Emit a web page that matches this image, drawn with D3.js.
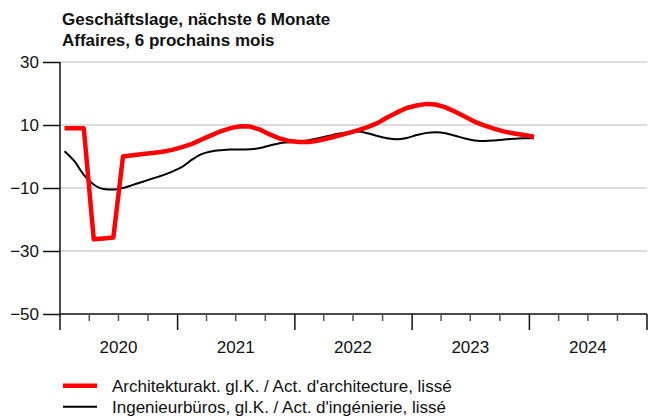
<!DOCTYPE html>
<html>
<head>
<meta charset="utf-8">
<script src="https://cdn.jsdelivr.net/npm/d3@7"></script>
<style>
  html, body { margin: 0; padding: 0; background: #fff; }
  svg { display: block; font-family: "Liberation Sans", Arial, sans-serif; }
</style>
</head>
<body>
<svg id="chart" width="656" height="416"></svg>
<script>
// ---- Data (monthly, Jan 2020 – Jan 2024) ----
const titleLines = ["Geschäftslage, nächste 6 Monate", "Affaires, 6 prochains mois"];
const startYear = 2020;
const startMonth = 0;
const architecture = [
  9, 9, 9, -26.3, -26.0, -25.7, 0, 0.4, 0.8, 1.1, 1.5, 2.1,
  3.0, 4.0, 5.3, 6.7, 8.0, 9.0, 9.6, 9.5, 8.5, 7.0, 5.7, 4.9,
  4.6, 4.6, 5.1, 5.8, 6.6, 7.4, 8.3, 9.3, 10.6, 12.4, 14.0, 15.4,
  16.2, 16.7, 16.5, 15.6, 14.2, 12.6, 11.0, 9.8, 8.8, 7.9, 7.3, 6.8,
  6.3
];
const engineering = [
  1.7, -1.5, -5.8, -8.9, -10.3, -10.5, -10.0, -9.0, -8.0, -7.0, -6.0, -4.8,
  -3.3, -1.0, 0.7, 1.6, 2.0, 2.2, 2.2, 2.3, 2.7, 3.5, 4.2, 4.5,
  4.8, 5.2, 5.8, 6.5, 7.2, 7.7, 7.9, 7.4, 6.5, 5.8, 5.5, 5.9,
  6.8, 7.5, 7.7, 7.4, 6.6, 5.7, 5.1, 4.9, 5.1, 5.4, 5.6, 5.8,
  5.8
];
const yTicks = [30, 10, -10, -30, -50];
const yearLabels = [2020, 2021, 2022, 2023, 2024];
const seriesNames = [
  "Architekturakt. gl.K. / Act. d'architecture, lissé",
  "Ingenieurbüros, gl.K. / Act. d'ingénierie, lissé"
];
const seriesColors = ["#ff0000", "#000000"];

// ---- Layout ----
const svg = d3.select("#chart");
const mLeft = 60, mRight = 647, mTop = 62, mBottom = 314;

const x = d3.scaleTime()
  .domain([new Date(2020, 0, 1), new Date(2025, 0, 1)])
  .range([mLeft, mRight]);
const y = d3.scaleLinear().domain([-50, 30]).range([mBottom, mTop]);

const dateOf = i => new Date(startYear, startMonth + i, 15);

// Title
svg.selectAll("text.title").data(titleLines).enter().append("text")
  .attr("class", "title")
  .attr("x", 62).attr("y", (d, i) => 24.5 + i * 21)
  .attr("font-size", 17).attr("font-weight", "bold").attr("fill", "#111")
  .text(d => d);

// Grid lines
svg.append("g").selectAll("line").data(yTicks.filter(d => d !== -50)).enter().append("line")
  .attr("x1", mLeft).attr("x2", mRight)
  .attr("y1", d => y(d)).attr("y2", d => y(d))
  .attr("stroke", "#d0d0d0").attr("stroke-width", 1.5);

// Y axis
const yAxis = d3.axisLeft(y).tickValues(yTicks).tickSize(17).tickPadding(4)
  .tickFormat(d => d < 0 ? "\u2212" + Math.abs(d) : d);
const gy = svg.append("g").attr("transform", `translate(${mLeft},0)`).call(yAxis);
gy.select(".domain").remove();
gy.selectAll(".tick line").attr("stroke", "#111").attr("stroke-width", 1.5);
gy.selectAll(".tick text").attr("font-size", 17).attr("fill", "#111")
  .attr("font-family", "Liberation Sans, Arial, sans-serif");
svg.append("line").attr("x1", mLeft).attr("x2", mLeft).attr("y1", mTop).attr("y2", mBottom)
  .attr("stroke", "#111").attr("stroke-width", 1.5);

// X axis
const quarters = d3.timeMonth.every(3).range(new Date(2020, 0, 1), new Date(2025, 0, 2));
const gx = svg.append("g");
gx.append("line").attr("x1", mLeft).attr("x2", mRight).attr("y1", mBottom).attr("y2", mBottom)
  .attr("stroke", "#111").attr("stroke-width", 1.5);
gx.selectAll("line.tick").data(quarters).enter().append("line")
  .attr("x1", d => x(d)).attr("x2", d => x(d))
  .attr("y1", mBottom)
  .attr("y2", d => d.getMonth() === 0 ? mBottom + 16 : mBottom + 7)
  .attr("stroke", d => d.getMonth() === 0 ? "#111" : "#555")
  .attr("stroke-width", 1.5);
gx.selectAll("text").data(yearLabels).enter().append("text")
  .attr("x", d => x(new Date(d, 6, 1)))
  .attr("y", 353)
  .attr("text-anchor", "middle")
  .attr("font-size", 17).attr("fill", "#111")
  .text(d => d);

// Lines
const smoothLine = d3.line()
  .x((d, i) => x(dateOf(i)))
  .y(d => y(d))
  .curve(d3.curveMonotoneX);
const straightLine = d3.line()
  .x((d, i) => x(dateOf(i)))
  .y(d => y(d))
  .curve(d3.curveLinear);

svg.append("path").datum(engineering)
  .attr("fill", "none").attr("stroke", seriesColors[1]).attr("stroke-width", 2)
  .attr("stroke-linejoin", "round")
  .attr("d", smoothLine);

svg.append("path").datum(architecture)
  .attr("fill", "none").attr("stroke", seriesColors[0]).attr("stroke-width", 4.5)
  .attr("stroke-linejoin", "round")
  .attr("d", straightLine);

// Legend
const lg = svg.append("g");
seriesNames.forEach((name, i) => {
  const ly = 385.7 + i * 21;
  lg.append("line").attr("x1", 63).attr("x2", 97).attr("y1", ly).attr("y2", ly)
    .attr("stroke", seriesColors[i]).attr("stroke-width", i === 0 ? 4.5 : 2);
  lg.append("text").attr("x", 112).attr("y", ly + 6.5)
    .attr("font-size", 17).attr("fill", "#111").text(name);
});
</script>
</body>
</html>
